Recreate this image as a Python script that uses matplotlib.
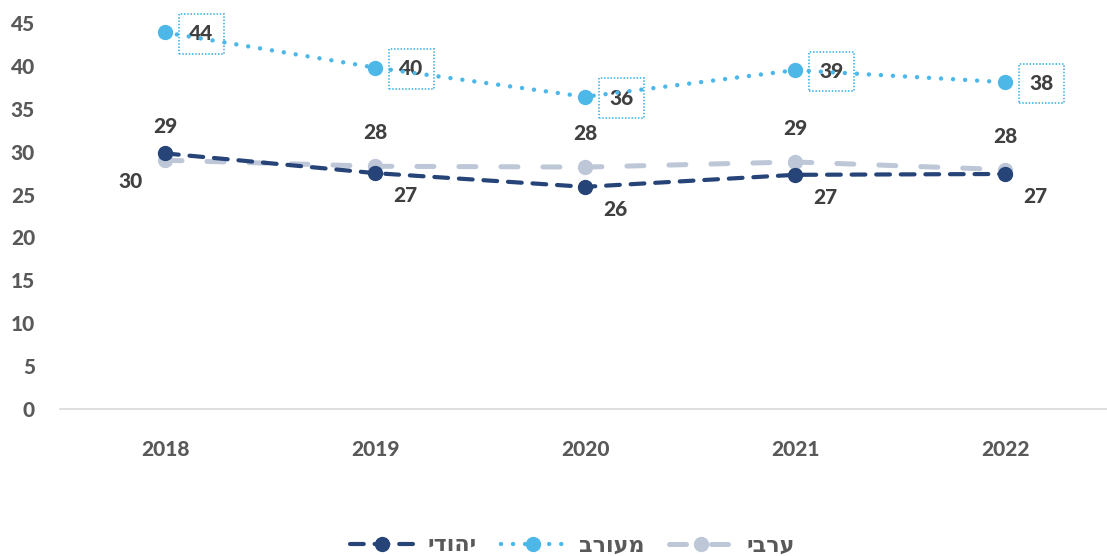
import numpy as np
import matplotlib.pyplot as plt

plt.rcParams['font.family'] = ['Lato', 'Open Sans', 'DejaVu Sans']

years = [2018, 2019, 2020, 2021, 2022]
jewish = [29.8, 27.5, 25.9, 27.3, 27.4]
mixed = [43.9, 39.8, 36.4, 39.5, 38.1]
arab = [29.0, 28.3, 28.2, 28.8, 27.9]
jewish_lbl = [30, 27, 26, 27, 27]
mixed_lbl = [44, 40, 36, 39, 38]
arab_lbl = [29, 28, 28, 29, 28]
names = ['יהודי', 'מעורב', 'ערבי']

c_dark = '#264478'
c_blue = '#4DB8E8'
c_grey = '#BDC7D8'
c_txt = '#404040'

fig = plt.figure(figsize=(11.07, 5.56), dpi=100)
ax = fig.add_axes([60 / 1107, 147 / 556, 1050 / 1107, 386 / 556])

x = np.arange(len(years))
l1, = ax.plot(x, jewish, color=c_dark, lw=3, marker='o', ms=10,
              dashes=(3.3, 2.6), dash_capstyle='round', label=names[0][::-1], zorder=4)
l2, = ax.plot(x, mixed, color=c_blue, lw=3.2, marker='o', ms=10,
              dashes=(0.01, 2.7), dash_capstyle='round', label=names[1][::-1], zorder=4)
l3, = ax.plot(x, arab, color=c_grey, lw=3.6, marker='o', ms=10,
              dashes=(3.4, 5), dash_capstyle='round', label=names[2][::-1], zorder=3)

kw = dict(textcoords='offset points', fontsize=15, fontweight='black', color=c_txt,
          ha='center', va='center')
for i in x:
    if i == 0:
        ax.annotate(str(jewish_lbl[i]), (i, jewish[i]), xytext=(-25, -20), **kw)
    else:
        ax.annotate(str(jewish_lbl[i]), (i, jewish[i]), xytext=(22, -16), **kw)
    ax.annotate(str(arab_lbl[i]), (i, arab[i]), xytext=(0, 24), **kw)
    ax.annotate(str(mixed_lbl[i]), (i, mixed[i]), xytext=(26, -1),
                bbox=dict(boxstyle='square,pad=0.5', fc='none', ec=c_blue,
                          ls=(0, (0.8, 1.0)), lw=1.3), **kw)

ax.set_xlim(-0.5, 4.5)
ax.set_ylim(0, 45)
ax.set_yticks(np.arange(0, 46, 5))
ax.set_xticks(x)
ax.set_xticklabels([str(y) for y in years])
for s in ['top', 'right', 'left']:
    ax.spines[s].set_visible(False)
ax.spines['bottom'].set_color('#D9D9D9')
ax.spines['bottom'].set_linewidth(1.2)
ax.tick_params(axis='both', length=0, labelsize=15, labelcolor='#595959')
ax.tick_params(axis='x', pad=22)
ax.tick_params(axis='y', pad=18)
for t in ax.get_xticklabels() + ax.get_yticklabels():
    t.set_fontweight('black')

leg = fig.legend(handles=[l1, l2, l3], loc='center', bbox_to_anchor=(0.517, 0.02),
                 ncol=3, frameon=False, handlelength=2.9, handletextpad=0.6,
                 columnspacing=1.1, prop=dict(size=16, weight='bold'),
                 labelcolor='#595959')

fig.savefig('out.png', dpi=100)
